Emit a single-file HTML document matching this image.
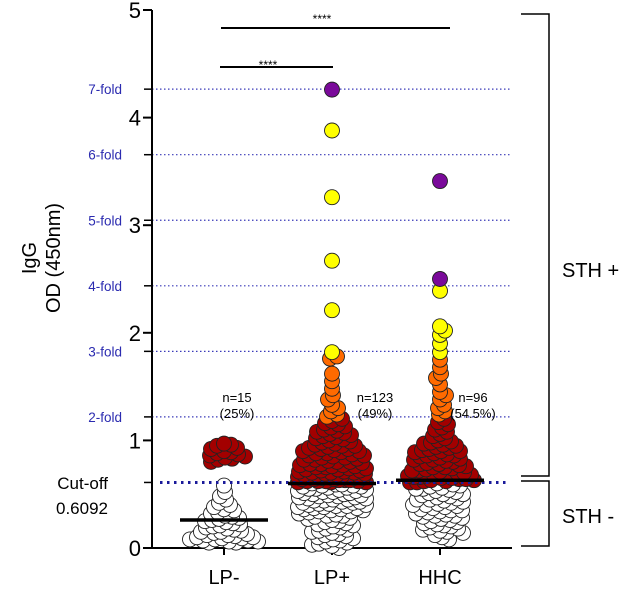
<!DOCTYPE html>
<html><head><meta charset="utf-8"><style>
body{margin:0;background:#fff}
svg{display:block;font-family:"Liberation Sans",sans-serif}
</style></head><body>
<svg id="chart" width="630" height="589" viewBox="0 0 630 589">
<g id="grid"></g><g id="axes"></g><g id="dots"></g><g id="topg"></g><g id="ann"></g>
</svg>
<script>
const categories=["LP-","LP+","HHC"];
const foldValues=[2,3,4,5,6,7];
const cutoff=0.6092;
const yTicks=[0,1,2,3,4,5];
const medians=[0.26,0.60,0.63];
const nLabels=["n=15","n=123","n=96"];
const pctLabels=["(25%)","(49%)","(54.5%)"];
const lpMinus=[0.97,0.96,0.95,0.93,0.92,0.9,0.89,0.88,0.87,0.86,0.85,0.84,0.83,0.82,0.8,
0.58,0.52,0.48,0.45,0.42,0.4,0.38,0.36,0.35,0.33,0.32,0.3,0.29,0.28,0.27,0.26,0.25,0.24,0.23,0.22,0.21,0.2,0.19,0.18,0.17,0.16,0.15,0.15,0.14,0.13,0.12,0.12,0.11,0.1,0.1,0.09,0.09,0.08,0.08,0.07,0.07,0.06,0.06,0.05,0.05];
const lpPlus=[3.88,3.26,2.67,2.21,1.82,1.78,1.76,1.62,1.55,1.48,1.42,1.38,1.33,1.3,1.27,1.24,1.22,
1.2,1.18,1.16,1.15,1.13,1.12,1.1,1.09,1.08,1.07,1.06,1.05,1.04,1.03,1.02,1.01,1.0,0.99,0.98,0.97,0.96,0.95,0.95,0.94,0.93,0.92,0.92,0.91,0.9,0.9,0.89,0.88,0.88,0.87,0.86,0.86,0.85,0.84,0.84,0.83,0.82,0.82,0.81,0.8,0.8,0.79,0.78,0.78,0.77,0.77,0.76,0.76,0.75,0.75,0.74,0.74,0.73,0.73,0.72,0.72,0.71,0.71,0.7,0.7,0.7,0.69,0.69,0.68,0.68,0.68,0.67,0.67,0.67,0.66,0.66,0.66,0.65,0.65,0.65,0.64,0.64,0.64,0.63,0.63,0.63,0.62,0.62,0.62,0.62,0.61,0.61,0.61,
0.6,0.59,0.59,0.58,0.58,0.57,0.57,0.56,0.56,0.55,0.55,0.54,0.54,0.53,0.53,0.52,0.52,0.51,0.51,0.5,0.5,0.49,0.49,0.48,0.48,0.47,0.47,0.46,0.46,0.45,0.45,0.44,0.44,0.43,0.43,0.42,0.42,0.41,0.41,0.4,0.4,0.39,0.39,0.38,0.38,0.37,0.37,0.36,0.36,0.35,0.35,0.34,0.34,0.33,0.32,0.31,0.3,0.3,0.29,0.28,0.27,0.26,0.25,0.24,0.23,0.22,0.21,0.2,0.19,0.18,0.17,0.16,0.15,0.14,0.13,0.12,0.11,0.1,0.09,0.08,0.07,0.06,0.05,0.04,0.03,0.02,0.0];
const lpPlusPurple=[4.26];
const hhc=[2.39,2.06,2.02,1.98,1.9,1.82,1.75,1.68,1.62,1.58,1.52,1.45,1.42,1.38,1.33,1.3,1.27,1.24,
1.2,1.17,1.15,1.12,1.1,1.08,1.06,1.04,1.02,1.0,0.99,0.98,0.97,0.96,0.95,0.94,0.93,0.92,0.91,0.9,0.9,0.89,0.88,0.87,0.86,0.86,0.85,0.84,0.83,0.82,0.82,0.81,0.8,0.79,0.78,0.78,0.77,0.76,0.75,0.75,0.74,0.73,0.72,0.72,0.71,0.7,0.7,0.69,0.68,0.68,0.67,0.67,0.66,0.66,0.65,0.65,0.64,0.64,0.63,0.63,0.62,0.62,0.61,0.61,
0.6,0.59,0.58,0.57,0.56,0.55,0.55,0.54,0.53,0.52,0.51,0.5,0.5,0.49,0.48,0.47,0.46,0.45,0.45,0.44,0.43,0.42,0.41,0.4,0.4,0.39,0.38,0.37,0.36,0.35,0.35,0.34,0.33,0.32,0.31,0.3,0.3,0.29,0.28,0.27,0.26,0.25,0.24,0.23,0.22,0.21,0.2,0.19,0.18,0.17,0.16,0.15,0.14,0.12,0.1,0.08];
const hhcPurple=[3.41,2.5];

const NS="http://www.w3.org/2000/svg";
const X0=152,X1=512,Y0=548,PX=107.6;
const catX=[224,332,440];
const y=v=>Y0-v*PX;
function mk(tag,attrs,parent,text){const e=document.createElementNS(NS,tag);for(const k in attrs)e.setAttribute(k,attrs[k]);if(text!==undefined)e.textContent=text;parent.appendChild(e);return e;}
const grid=document.getElementById('grid'),axes=document.getElementById('axes'),dots=document.getElementById('dots'),topG=document.getElementById('topg'),ann=document.getElementById('ann');

foldValues.forEach(f=>{const yy=y(f*cutoff);
 const l=mk('line',{x1:X0,x2:X1,y1:yy,y2:yy,stroke:'#3a3ab8','stroke-width':1.2,'stroke-dasharray':'1.5 2.5'},grid);
 
 
 const t=mk('text',{x:122,y:yy+5,'text-anchor':'end','font-size':13.5,fill:'#2b2bb0'},grid,f+'-fold');
 
 
 mk('line',{x1:144,x2:X0,y1:yy,y2:yy,stroke:'#000','stroke-width':1.5},axes);
});
const cl=mk('line',{x1:X0+8,x2:X1-5,y1:y(cutoff),y2:y(cutoff),stroke:'#1a1a9a','stroke-width':3,'stroke-dasharray':'2.5 4.5'},topG);


mk('line',{x1:144,x2:X0,y1:y(cutoff),y2:y(cutoff),stroke:'#000','stroke-width':1.5},axes);

const ya=mk('line',{x1:X0,x2:X0,y1:y(5),y2:Y0+1,stroke:'#000','stroke-width':2},axes);


const xa=mk('line',{x1:X0,x2:X1,y1:Y0,y2:Y0,stroke:'#000','stroke-width':2},axes);


yTicks.forEach(v=>{mk('line',{x1:143,x2:X0,y1:y(v),y2:y(v),stroke:'#000','stroke-width':2},axes);
 const t=mk('text',{x:141,y:y(v)+8,'text-anchor':'end','font-size':22},axes,String(v));
 
 });
categories.forEach((c,i)=>{mk('line',{x1:catX[i],x2:catX[i],y1:Y0,y2:Y0+7,stroke:'#000','stroke-width':2},axes);
 const t=mk('text',{x:catX[i],y:584,'text-anchor':'middle','font-size':20},axes,c);
 
 });

function colorFor(v){if(v>=1.8)return '#ffff00';if(v>=1.218)return '#ff6a00';if(v>=cutoff)return '#a30000';return '#ffffff';}
function swarm(vals,purple,cx,gi){
 const pts=vals.map(v=>({v,c:colorFor(v)})).concat(purple.map(v=>({v,c:'#7a0a9a'})));
 pts.sort((a,b)=>b.v-a.v);
 const placed=[];const md=6.5,maxOff=34;
 pts.forEach(p=>{const py=y(p.v);let best=0,bestD=-1;
  for(let k=0;k<=maxOff*2;k++){const off=(k%2?1:-1)*Math.ceil(k/2);
   let dmin=1e9;placed.forEach(q=>{const d=Math.hypot(q.x-(cx+off),q.y-py);if(d<dmin)dmin=d;});
   if(dmin>=md){best=off;bestD=dmin;break;}
   if(dmin>bestD){bestD=dmin;best=off;}}
  placed.push({x:cx+best,y:py,c:p.c,v:p.v});});
 placed.sort((a,b)=>a.v-b.v);
 placed.forEach((q,i)=>{const c=mk('circle',{cx:q.x,cy:q.y,r:7.5,fill:q.c,stroke:'#222','stroke-width':0.9},dots);
  
  });
}
swarm(lpMinus,[],catX[0],0);swarm(lpPlus,lpPlusPurple,catX[1],1);swarm(hhc,hhcPurple,catX[2],2);
medians.forEach((m,i)=>{const l=mk('line',{x1:catX[i]-44,x2:catX[i]+44,y1:y(m),y2:y(m),stroke:'#000','stroke-width':3.5},ann);
 
 });
const nx=[237,375,473];
nLabels.forEach((n,i)=>{const t=mk('text',{x:nx[i],y:402,'text-anchor':'middle','font-size':13},ann,n);
 
 
 const p=mk('text',{x:nx[i],y:418,'text-anchor':'middle','font-size':13},ann,pctLabels[i]);
 
 });
</script>
<script>
(function(){const s=document.getElementById('ann');const NS="http://www.w3.org/2000/svg";
function m(t,a,x){const e=document.createElementNS(NS,t);for(const k in a)e.setAttribute(k,a[k]);if(x)e.textContent=x;s.appendChild(e);return e;}
let e;
e=m('line',{x1:221,x2:450,y1:28,y2:28,stroke:'#000','stroke-width':2});
e=m('text',{x:322,y:23,'text-anchor':'middle','font-size':12},'****');
e=m('line',{x1:220,x2:333,y1:67,y2:67,stroke:'#000','stroke-width':2});
e=m('text',{x:268,y:69,'text-anchor':'middle','font-size':12},'****');
e=m('path',{d:'M521 14 H549 V476 H521',fill:'none',stroke:'#000','stroke-width':1.5});
e=m('path',{d:'M521 481 H549 V546 H521',fill:'none',stroke:'#000','stroke-width':1.5});
e=m('text',{x:562,y:277,'font-size':20},'STH +');
e=m('text',{x:562,y:523,'font-size':20},'STH -');
e=m('text',{x:108,y:489,'text-anchor':'end','font-size':17},'Cut-off');
e=m('text',{x:108,y:514,'text-anchor':'end','font-size':17},'0.6092');
e=m('text',{x:0,y:0,'font-size':20,'text-anchor':'middle',transform:'translate(36,258) rotate(-90)'},'IgG');
e=m('text',{x:0,y:0,'font-size':20,'text-anchor':'middle',transform:'translate(60,258) rotate(-90)'},'OD (450nm)');
})();
</script>
</body></html>
